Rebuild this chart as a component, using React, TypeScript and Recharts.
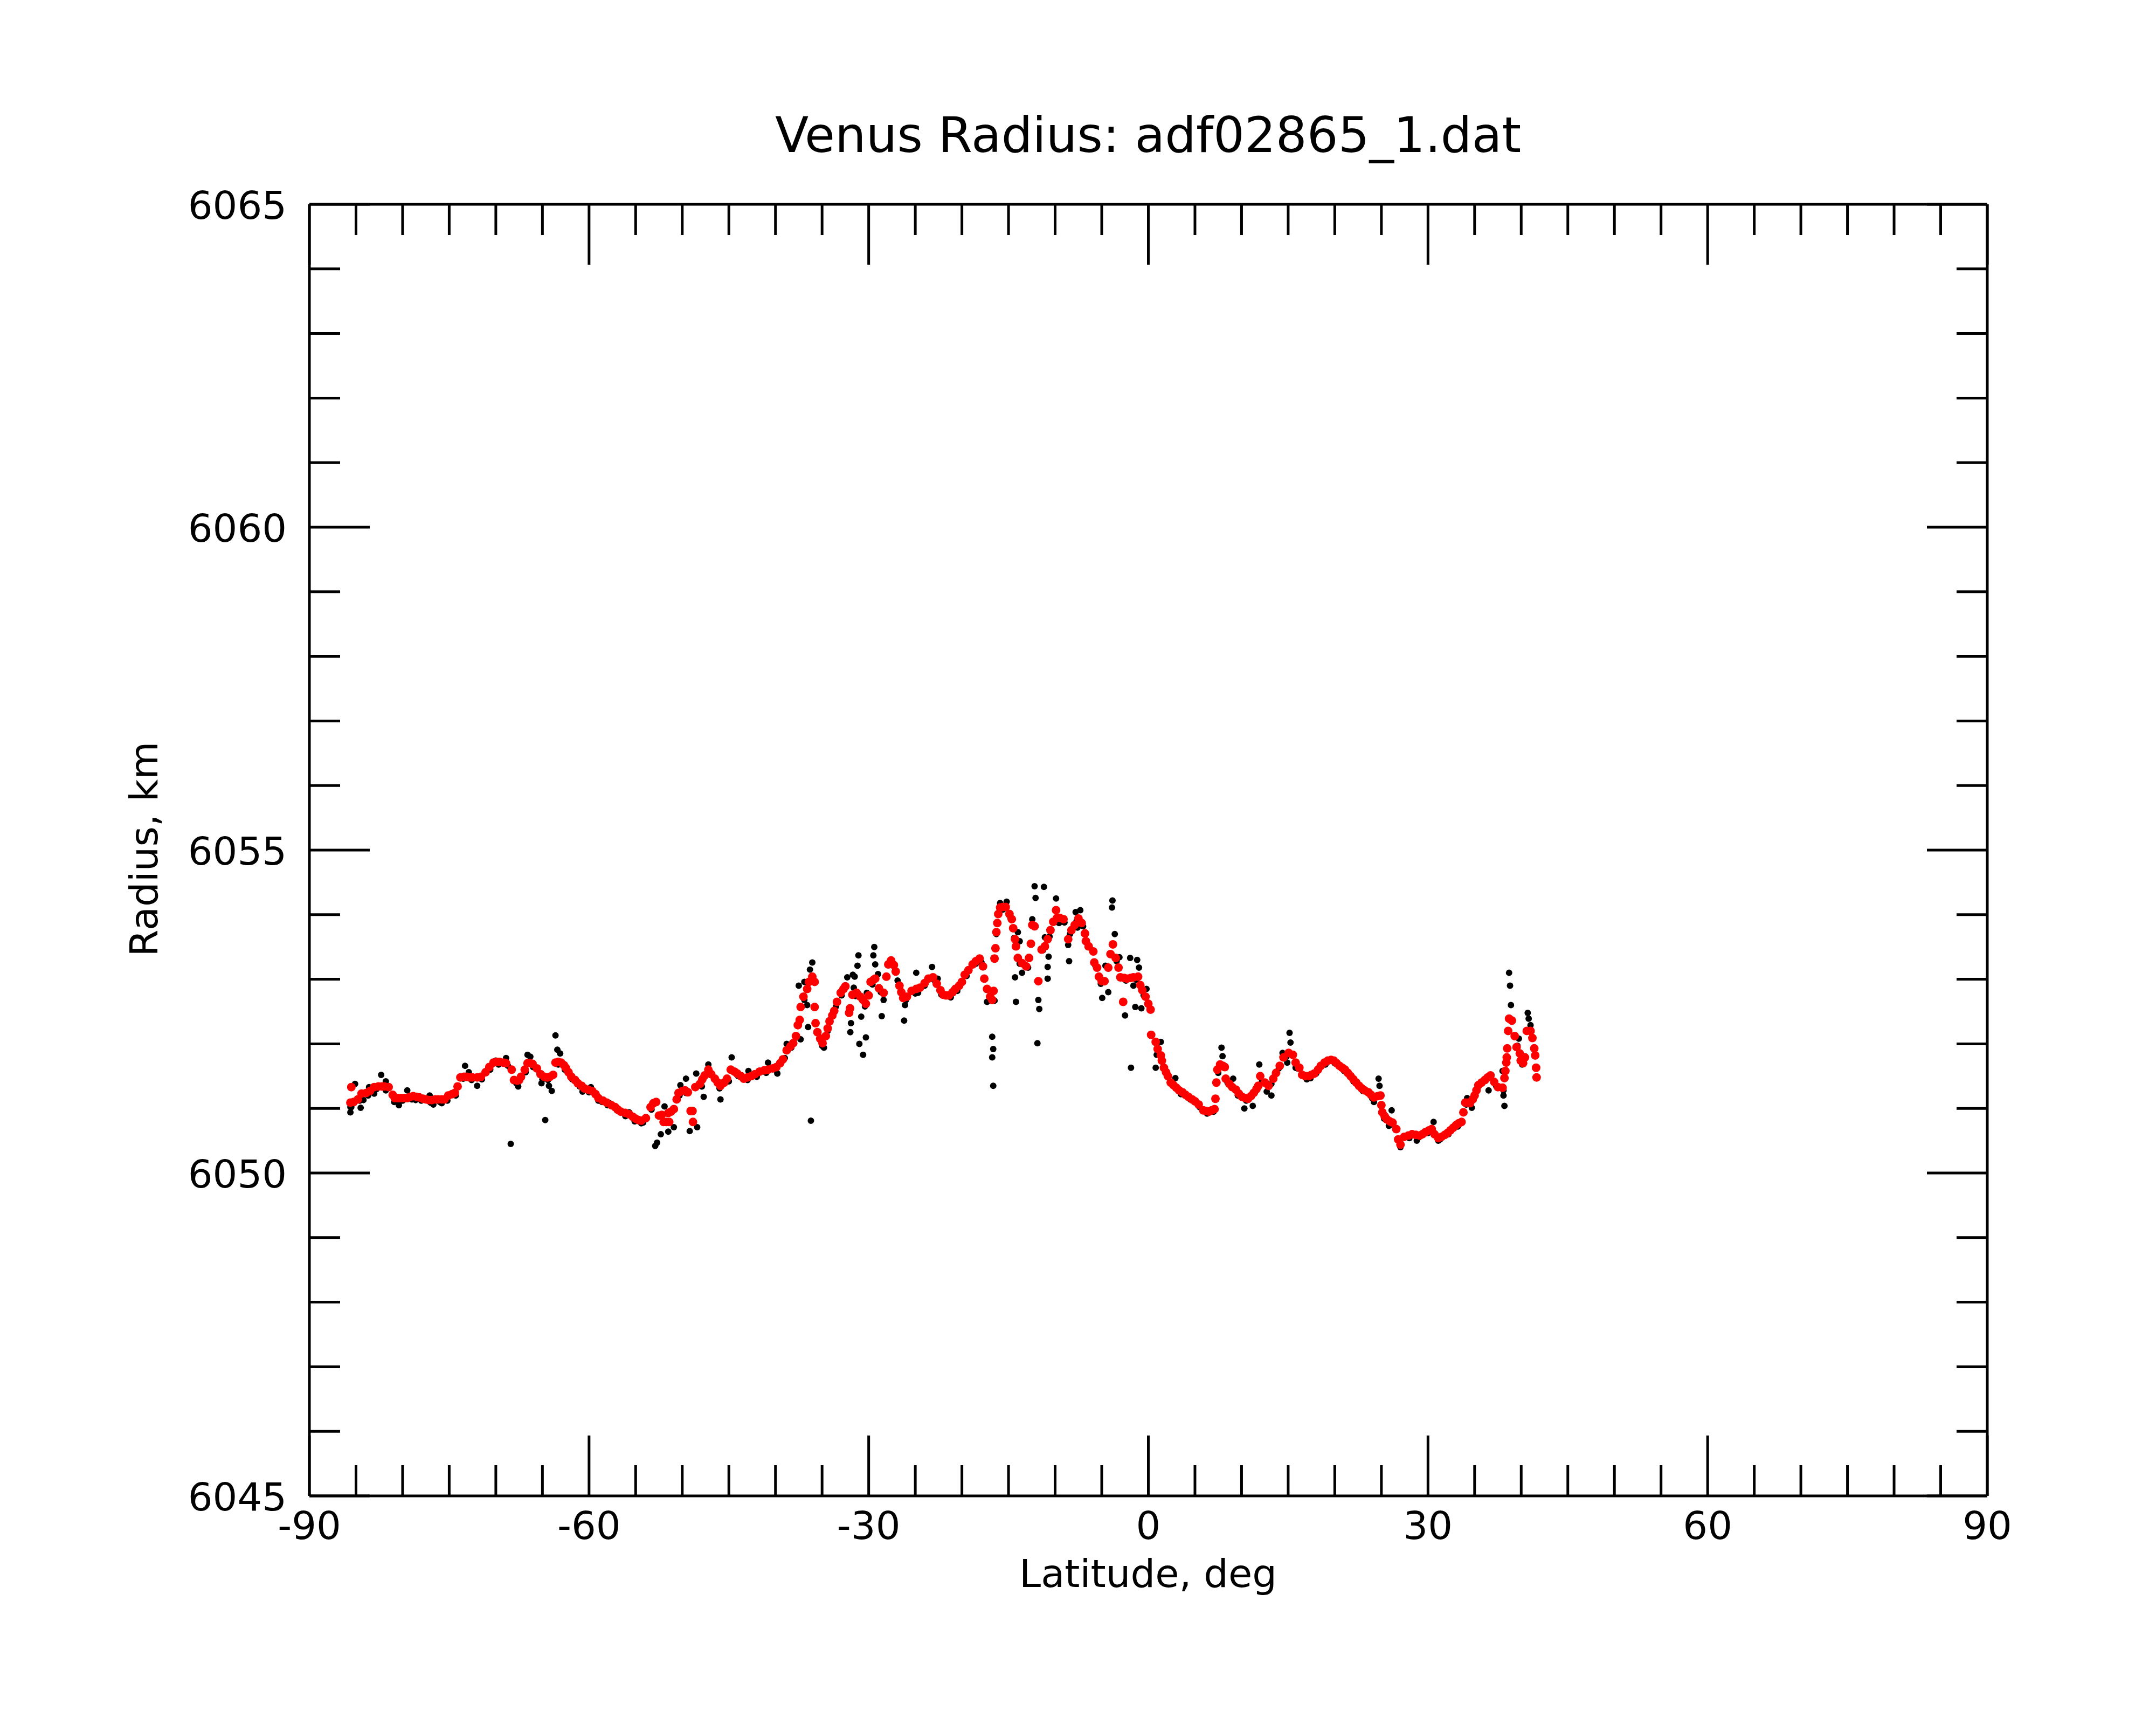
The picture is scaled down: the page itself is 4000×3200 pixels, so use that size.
import React from 'react';
import { ScatterChart, Scatter, XAxis, YAxis } from 'recharts';

// latitude ticks every 5 deg, labels only on multiples of 30
const latTicks = [-90, -85, -80, -75, -70, -65, -60, -55, -50, -45, -40, -35, -30, -25, -20, -15, -10, -5, 0, 5, 10, 15, 20, 25, 30, 35, 40, 45, 50, 55, 60, 65, 70, 75, 80, 85, 90];
// radius ticks every 1 km, labels every 5 km
const radiusTicks = [6045, 6046, 6047, 6048, 6049, 6050, 6051, 6052, 6053, 6054, 6055, 6056, 6057, 6058, 6059, 6060, 6061, 6062, 6063, 6064, 6065];

// raw samples (black) that sit along the smoothed profile
const rawAlong: [number, number][] = [
  [-85.5, 6051.02], [-84.6, 6051.12], [-83.7, 6051.2], [-82.8, 6051.3], [-81.8, 6051.28], [-80.9, 6051.1],
  [-80.0, 6051.12], [-79.0, 6051.14], [-78.0, 6051.12], [-77.0, 6051.09], [-76.0, 6051.1], [-75.2, 6051.12],
  [-74.3, 6051.2], [-73.5, 6051.46], [-72.6, 6051.44], [-71.5, 6051.45], [-70.6, 6051.6], [-69.7, 6051.68],
  [-68.7, 6051.66], [-67.8, 6051.39], [-66.8, 6051.56], [-66.0, 6051.64], [-65.0, 6051.45], [-64.4, 6051.44],
  [-63.3, 6051.68], [-62.6, 6051.6], [-61.8, 6051.45], [-61.0, 6051.34], [-60.0, 6051.25], [-59.0, 6051.12],
  [-58.0, 6051.05], [-57.0, 6050.97], [-56.0, 6050.89], [-55.1, 6050.8], [-54.2, 6050.78], [-53.3, 6050.98],
  [-50.3, 6051.2], [-49.6, 6051.24], [-47.9, 6051.34], [-47.0, 6051.55], [-46.0, 6051.31], [-45.0, 6051.42],
  [-44.0, 6051.5], [-43.0, 6051.44], [-42.0, 6051.49], [-41.0, 6051.55], [-40.0, 6051.6], [-39.0, 6051.78],
  [-38.3, 6051.94], [-37.7, 6052.1], [-36.9, 6052.68], [-36.2, 6052.98], [-35.0, 6051.97], [-34.4, 6052.2],
  [-33.5, 6052.58], [-32.9, 6052.75], [-31.4, 6052.74], [-30.4, 6052.58], [-29.6, 6052.92], [-28.7, 6052.8],
  [-27.5, 6053.25], [-26.9, 6052.98], [-26.0, 6052.68], [-25.0, 6052.78], [-24.0, 6052.9], [-23.0, 6052.99],
  [-22.2, 6052.76], [-21.2, 6052.72], [-20.5, 6052.82], [-19.5, 6053.05], [-18.5, 6053.24], [-17.9, 6053.26],
  [-17.0, 6052.7], [-16.3, 6053.7], [-15.6, 6054.08], [-14.8, 6053.96], [-14.4, 6053.64], [-13.8, 6053.24],
  [-12.9, 6053.18], [-11.3, 6053.45], [-10.6, 6053.66], [-9.7, 6053.92], [-9.0, 6053.88], [-8.4, 6053.7],
  [-7.7, 6053.9], [-7.0, 6053.82], [-6.5, 6053.5], [-5.7, 6053.22], [-5.1, 6052.93], [-3.4, 6053.28],
  [-2.4, 6052.98], [-1.3, 6052.99], [-0.5, 6052.75], [1.2, 6051.84], [2.0, 6051.5], [3.5, 6051.22],
  [4.5, 6051.14], [5.5, 6051.02], [6.3, 6050.92], [7.0, 6050.95], [7.5, 6051.55], [8.5, 6051.4],
  [9.6, 6051.2], [10.5, 6051.12], [11.5, 6051.26], [12.2, 6051.42], [13.2, 6051.38], [14.0, 6051.62],
  [14.8, 6051.8], [16.0, 6051.62], [17.0, 6051.45], [18.0, 6051.54], [19.0, 6051.68], [20.0, 6051.7],
  [21.0, 6051.58], [22.0, 6051.42], [23.0, 6051.27], [24.0, 6051.16], [25.3, 6050.84], [26.0, 6050.75],
  [27.0, 6050.42], [28.0, 6050.54], [29.0, 6050.55], [30.0, 6050.62], [31.3, 6050.52], [32.2, 6050.6],
  [33.2, 6050.72], [34.1, 6051.06], [35.3, 6051.3], [36.3, 6051.45], [37.3, 6051.35], [38.1, 6051.28],
];

// raw samples (black) scattered away from the profile
const rawScatter: [number, number][] = [
  [-85.6, 6050.94], [-85.6, 6051.02], [-85.1, 6051.38], [-84.5, 6051.01], [-84.2, 6051.13], [-83.6, 6051.33],
  [-83.05, 6051.23], [-82.3, 6051.52], [-81.8, 6051.42], [-80.4, 6051.05], [-79.5, 6051.28], [-78.6, 6051.13],
  [-77.1, 6051.2], [-76.7, 6051.06], [-75.8, 6051.08], [-73.3, 6051.66], [-72.9, 6051.56], [-72.0, 6051.35],
  [-70.0, 6051.74], [-68.9, 6051.78], [-68.4, 6050.45], [-67.6, 6051.34], [-66.6, 6051.83], [-66.3, 6051.8],
  [-65.1, 6051.39], [-64.3, 6051.35], [-64.0, 6051.27], [-64.7, 6050.82], [-63.6, 6052.13], [-63.4, 6051.91],
  [-63.1, 6051.85], [-62.3, 6051.57], [-60.7, 6051.26], [-59.8, 6051.33], [-58.6, 6051.1], [-57.8, 6051.08],
  [-56.1, 6050.88], [-55.7, 6050.94], [-54.4, 6050.77], [-53.05, 6051.07], [-52.9, 6050.42],
  [-52.7, 6050.47], [-52.3, 6050.6], [-51.9, 6051.03], [-51.5, 6050.64], [-50.9, 6050.71], [-50.2, 6051.36],
  [-49.6, 6051.46], [-49.2, 6050.65], [-48.4, 6050.71], [-48.5, 6051.54], [-47.7, 6051.18], [-47.2, 6051.68],
  [-45.9, 6051.14], [-44.7, 6051.79], [-42.9, 6051.58], [-40.8, 6051.71], [-39.8, 6051.54], [-38.8, 6052.0],
  [-37.3, 6052.07], [-37.5, 6052.9], [-36.9, 6052.96], [-36.6, 6052.6], [-36.05, 6053.26], [-36.3, 6053.15],
  [-36.5, 6052.26], [-36.2, 6050.81], [-34.8, 6051.94], [-32.3, 6053.03], [-31.7, 6053.07], [-31.97, 6052.18],
  [-31.9, 6052.32], [-31.6, 6052.87], [-31.5, 6053.04], [-31.2, 6053.21], [-31.1, 6053.37], [-31.0, 6052.0],
  [-30.6, 6051.83], [-30.3, 6052.1], [-30.8, 6052.42], [-30.2, 6052.79], [-29.5, 6053.37], [-29.4, 6053.5],
  [-29.3, 6053.23], [-29.0, 6053.08], [-28.6, 6052.43], [-28.4, 6052.68], [-26.1, 6052.6], [-26.2, 6052.36],
  [-24.9, 6053.1], [-24.7, 6052.79], [-23.2, 6053.19], [-22.6, 6053.01],
  [-16.75, 6052.11], [-16.64, 6051.92], [-16.75, 6051.79], [-16.64, 6051.35], [-17.3, 6052.65], [-16.5, 6052.67],
  [-16.6, 6053.33], [-15.9, 6054.18], [-15.2, 6054.2], [-14.2, 6052.65], [-14.3, 6053.03], [-14.0, 6053.73],
  [-13.8, 6053.59], [-13.55, 6053.1], [-12.2, 6054.44], [-11.2, 6054.43], [-12.1, 6054.26], [-12.45, 6053.93],
  [-11.8, 6052.68], [-11.7, 6052.54], [-11.9, 6052.01], [-11.1, 6053.65], [-10.7, 6053.35], [-10.8, 6053.19],
  [-10.8, 6053.01], [-9.9, 6054.25], [-9.58, 6053.87], [-8.6, 6053.53], [-8.5, 6053.28], [-7.8, 6054.04],
  [-7.3, 6054.07], [-7.6, 6053.8], [-4.95, 6052.71], [-4.3, 6052.8], [-4.6, 6053.21], [-3.85, 6054.22],
  [-3.9, 6054.11], [-3.6, 6053.7], [-3.1, 6053.34], [-2.5, 6052.44], [-1.95, 6053.33], [-1.2, 6053.3],
  [-1.0, 6053.18], [-1.6, 6052.9], [-1.4, 6052.57], [-0.75, 6052.55], [-0.2, 6052.85], [-1.86, 6051.63],
  [0.79, 6051.63], [1.34, 6052.03], [0.9, 6051.83], [2.9, 6051.47], [7.85, 6051.94], [7.96, 6051.81],
  [9.1, 6051.46], [10.3, 6051.0], [11.2, 6051.04], [11.9, 6051.68], [12.7, 6051.26],
  [15.15, 6052.17], [15.25, 6052.02], [14.4, 6051.86], [14.9, 6051.71], [15.8, 6051.63], [17.4, 6051.47],
  [13.2, 6051.2], [24.7, 6051.46], [24.8, 6051.35], [24.2, 6051.1], [26.1, 6050.97], [25.8, 6050.73],
  [27.05, 6050.4], [28.8, 6050.5], [30.6, 6050.79], [31.1, 6050.5], [34.2, 6051.16], [34.7, 6051.01],
  [36.5, 6051.28], [36.8, 6051.52], [38.1, 6051.2], [38.2, 6051.04], [38.0, 6051.58], [38.7, 6053.1],
  [38.8, 6052.9], [38.9, 6052.6], [39.75, 6052.08], [39.6, 6051.97], [40.1, 6051.68], [40.7, 6052.48],
  [40.8, 6052.39], [41.0, 6052.29],
];

// smoothed profile (red)
const smoothPoints: [number, number][] = [
  [-85.6, 6051.09], [-85.5, 6051.33], [-85.25, 6051.1], [-84.8, 6051.14], [-84.4, 6051.23], [-83.9, 6051.24],
  [-83.5, 6051.27], [-83.05, 6051.33], [-82.6, 6051.34], [-82.2, 6051.34], [-81.95, 6051.34], [-81.5, 6051.33],
  [-81.06, 6051.21], [-80.84, 6051.16], [-80.5, 6051.16], [-80.18, 6051.16], [-79.8, 6051.16], [-79.5, 6051.16],
  [-79.2, 6051.18], [-78.86, 6051.19], [-78.5, 6051.18], [-78.2, 6051.17], [-77.8, 6051.15], [-77.5, 6051.14],
  [-77.2, 6051.13], [-76.87, 6051.13], [-76.5, 6051.14], [-76.2, 6051.14], [-75.8, 6051.14], [-75.5, 6051.14],
  [-75.1, 6051.2], [-74.7, 6051.22], [-74.4, 6051.24], [-74.1, 6051.34], [-73.8, 6051.48], [-73.4, 6051.49],
  [-73.1, 6051.49], [-72.8, 6051.48], [-72.5, 6051.48], [-72.0, 6051.48], [-71.6, 6051.49], [-71.1, 6051.56],
  [-70.7, 6051.64], [-70.25, 6051.71], [-69.9, 6051.72], [-69.6, 6051.72], [-69.2, 6051.71], [-68.9, 6051.7],
  [-68.3, 6051.6], [-68.05, 6051.44], [-67.7, 6051.43], [-67.5, 6051.44], [-67.3, 6051.49], [-66.9, 6051.6],
  [-66.6, 6051.7], [-66.3, 6051.7], [-66.06, 6051.69], [-65.6, 6051.62], [-65.2, 6051.53], [-64.8, 6051.49],
  [-64.5, 6051.48], [-64.2, 6051.49], [-63.85, 6051.52], [-63.6, 6051.71], [-63.3, 6051.72], [-63.0, 6051.71],
  [-62.7, 6051.67], [-62.5, 6051.63], [-62.2, 6051.56], [-61.9, 6051.49], [-61.5, 6051.44], [-61.2, 6051.39],
  [-60.8, 6051.35], [-60.5, 6051.31], [-60.1, 6051.29], [-59.66, 6051.27], [-59.3, 6051.22], [-59.0, 6051.16],
  [-58.5, 6051.12], [-58.1, 6051.09], [-57.6, 6051.05], [-57.2, 6051.02], [-56.9, 6050.98], [-56.6, 6050.95],
  [-56.1, 6050.93], [-55.7, 6050.91], [-55.3, 6050.87], [-55.0, 6050.84], [-54.7, 6050.82], [-54.4, 6050.81],
  [-53.9, 6050.85], [-53.4, 6051.02], [-53.1, 6051.08], [-52.8, 6051.1], [-52.5, 6050.89], [-52.2, 6050.9],
  [-52.0, 6050.79], [-51.7, 6050.79], [-51.4, 6050.79], [-51.5, 6050.93], [-51.2, 6050.95], [-50.9, 6050.99],
  [-50.6, 6051.14], [-50.4, 6051.24], [-50.0, 6051.27], [-49.7, 6051.28], [-49.4, 6051.25], [-49.1, 6050.96],
  [-48.9, 6050.96], [-48.85, 6050.79], [-48.6, 6051.33], [-48.1, 6051.38], [-47.85, 6051.45], [-47.6, 6051.51],
  [-47.2, 6051.6], [-46.9, 6051.53], [-46.5, 6051.46], [-46.2, 6051.4], [-45.9, 6051.35], [-45.5, 6051.4],
  [-45.2, 6051.46], [-44.8, 6051.6], [-44.4, 6051.57], [-44.1, 6051.54], [-43.7, 6051.5], [-43.4, 6051.46],
  [-43.0, 6051.48], [-42.6, 6051.5], [-42.2, 6051.53], [-41.7, 6051.57], [-41.2, 6051.59], [-40.8, 6051.6],
  [-40.3, 6051.62], [-39.9, 6051.64], [-39.5, 6051.7], [-39.2, 6051.76], [-38.8, 6051.9], [-38.4, 6051.96],
  [-38.1, 6052.01], [-37.8, 6052.12], [-37.6, 6052.29], [-37.4, 6052.37], [-37.3, 6052.57], [-37.0, 6052.73],
  [-36.6, 6052.85], [-36.4, 6052.96], [-36.05, 6053.04], [-35.8, 6052.96], [-35.8, 6052.57], [-35.7, 6052.32],
  [-35.5, 6052.18], [-35.2, 6052.08], [-34.95, 6052.01], [-34.6, 6052.12], [-34.4, 6052.24], [-34.2, 6052.35],
  [-33.9, 6052.44], [-33.7, 6052.51], [-33.4, 6052.65], [-33.0, 6052.79], [-32.7, 6052.85], [-32.5, 6052.89],
  [-32.1, 6052.48], [-32.0, 6052.55], [-31.75, 6052.76], [-31.3, 6052.79], [-30.9, 6052.73], [-30.6, 6052.68],
  [-30.3, 6052.62], [-30.0, 6052.75], [-29.8, 6052.96], [-29.5, 6052.99], [-29.3, 6053.01], [-28.9, 6052.86],
  [-28.4, 6052.79], [-28.1, 6053.04], [-27.9, 6053.23], [-27.6, 6053.29], [-27.3, 6053.22], [-27.1, 6053.12],
  [-26.7, 6052.9], [-26.5, 6052.8], [-26.3, 6052.71], [-25.9, 6052.73], [-25.4, 6052.82], [-24.9, 6052.85],
  [-24.5, 6052.87], [-24.0, 6052.94], [-23.6, 6053.01], [-23.1, 6053.03], [-22.7, 6052.93], [-22.3, 6052.83],
  [-22.0, 6052.76], [-21.7, 6052.75], [-21.4, 6052.75], [-21.0, 6052.8], [-20.7, 6052.85], [-20.3, 6052.9],
  [-20.0, 6052.96], [-19.7, 6053.07], [-19.3, 6053.14], [-18.85, 6053.23], [-18.5, 6053.28], [-18.1, 6053.32],
  [-17.74, 6053.2], [-17.6, 6053.01], [-17.3, 6052.85], [-16.97, 6052.73], [-16.75, 6052.68], [-16.6, 6052.82],
  [-16.5, 6053.32], [-16.4, 6053.48], [-16.3, 6053.73], [-16.2, 6053.87], [-16.1, 6054.01], [-15.9, 6054.11],
  [-15.6, 6054.12], [-15.3, 6054.12], [-14.9, 6054.01], [-14.65, 6053.93], [-14.5, 6053.79], [-14.3, 6053.62],
  [-14.2, 6053.51], [-14.0, 6053.33], [-13.55, 6053.25], [-13.1, 6053.2], [-12.8, 6053.33], [-12.6, 6053.55],
  [-12.45, 6053.84], [-12.2, 6053.82], [-11.8, 6052.97], [-11.45, 6053.46], [-11.1, 6053.51], [-10.8, 6053.62],
  [-10.5, 6053.76], [-10.2, 6053.89], [-9.9, 6054.07], [-9.8, 6053.95], [-9.5, 6053.95], [-9.1, 6053.93],
  [-8.6, 6053.62], [-8.25, 6053.76], [-7.9, 6053.84], [-7.5, 6053.94], [-7.15, 6053.87], [-6.8, 6053.71],
  [-6.7, 6053.59], [-6.4, 6053.51], [-5.9, 6053.43], [-5.8, 6053.26], [-5.5, 6053.18], [-5.3, 6053.04],
  [-5.0, 6052.97], [-4.7, 6052.97], [-4.3, 6053.18], [-4.06, 6053.39], [-3.8, 6053.54], [-3.5, 6053.33],
  [-3.2, 6053.18], [-3.0, 6053.03], [-2.7, 6052.65], [-2.6, 6053.02], [-2.3, 6053.01], [-1.9, 6053.02],
  [-1.6, 6053.03], [-1.1, 6053.04], [-0.86, 6052.91], [-0.65, 6052.83], [-0.3, 6052.73], [0.0, 6052.62],
  [0.24, 6052.53], [0.3, 6052.14], [0.79, 6052.03], [1.0, 6051.92], [1.34, 6051.82], [1.45, 6051.74],
  [1.67, 6051.63], [1.9, 6051.56], [2.1, 6051.5], [2.4, 6051.4], [2.7, 6051.36], [3.0, 6051.32],
  [3.3, 6051.28], [3.66, 6051.25], [4.0, 6051.21], [4.3, 6051.18], [4.7, 6051.14], [5.0, 6051.11],
  [5.4, 6051.06], [5.9, 6050.97], [6.2, 6050.96], [6.5, 6050.95], [6.8, 6050.97], [7.1, 6050.99],
  [7.2, 6051.15], [7.3, 6051.4], [7.4, 6051.6], [7.7, 6051.68], [8.0, 6051.66], [8.2, 6051.64],
  [8.3, 6051.46], [8.7, 6051.38], [9.0, 6051.33], [9.4, 6051.29], [9.7, 6051.23], [10.05, 6051.18],
  [10.4, 6051.16], [10.7, 6051.15], [11.0, 6051.19], [11.3, 6051.24], [11.6, 6051.3], [11.8, 6051.35],
  [12.0, 6051.5], [12.5, 6051.4], [12.9, 6051.35], [13.4, 6051.46], [13.7, 6051.55], [14.1, 6051.66],
  [14.5, 6051.79], [15.05, 6051.86], [15.5, 6051.83], [15.8, 6051.71], [16.2, 6051.63], [16.5, 6051.52],
  [16.85, 6051.5], [17.2, 6051.5], [17.5, 6051.52], [17.8, 6051.54], [18.2, 6051.6], [18.5, 6051.66],
  [18.9, 6051.71], [19.25, 6051.74], [19.6, 6051.75], [19.9, 6051.74], [20.2, 6051.7], [20.5, 6051.66],
  [20.8, 6051.63], [21.1, 6051.6], [21.4, 6051.55], [21.7, 6051.5], [22.0, 6051.45], [22.3, 6051.4],
  [22.6, 6051.35], [22.9, 6051.31], [23.2, 6051.28], [23.6, 6051.25], [23.9, 6051.21], [24.2, 6051.17],
  [24.6, 6051.19], [24.9, 6051.2], [25.0, 6051.05], [25.1, 6050.94], [25.35, 6050.88], [25.6, 6050.83],
  [25.9, 6050.8], [26.2, 6050.78], [26.6, 6050.68], [26.8, 6050.52], [27.05, 6050.44], [27.45, 6050.56],
  [27.9, 6050.58], [28.3, 6050.6], [28.7, 6050.59], [29.1, 6050.58], [29.4, 6050.6], [29.7, 6050.63],
  [30.1, 6050.66], [30.4, 6050.68], [30.7, 6050.6], [31.1, 6050.54], [31.45, 6050.56], [31.8, 6050.59],
  [32.1, 6050.62], [32.4, 6050.66], [32.7, 6050.7], [33.0, 6050.74], [33.3, 6050.77], [33.6, 6050.79],
  [33.8, 6050.94], [34.0, 6051.09], [34.3, 6051.09], [34.5, 6051.08], [34.8, 6051.14], [35.0, 6051.2],
  [35.2, 6051.28], [35.4, 6051.36], [35.75, 6051.4], [36.1, 6051.44], [36.4, 6051.48], [36.7, 6051.51],
  [37.1, 6051.41], [37.5, 6051.33], [38.0, 6051.32], [38.2, 6051.47], [38.3, 6051.58], [38.4, 6051.71],
  [38.45, 6051.79], [38.5, 6051.93], [38.6, 6052.2], [38.7, 6052.39], [39.0, 6052.36], [39.3, 6052.12],
  [39.5, 6051.95], [39.85, 6051.85], [39.95, 6051.74], [40.2, 6051.7], [40.4, 6051.79], [40.6, 6052.2],
  [41.0, 6052.2], [41.2, 6052.09], [41.4, 6051.93], [41.5, 6051.82], [41.6, 6051.63], [41.65, 6051.48],
];

const toRows = (pts: [number, number][]) => pts.map(([lat, radius]) => ({ lat, radius }));
const rawData = toRows([...rawAlong, ...rawScatter]);
const smoothData = toRows(smoothPoints);

const FONT = '"DejaVu Sans", sans-serif';
const LINE = 5;
const MAJOR_LEN = 112;
const MINOR_LEN = 57;

const isMajorLat = (v: number) => v % 30 === 0;
const isMajorRadius = (v: number) => v % 5 === 0;

const BottomTick = ({ x, y, payload }: any) => {
  const major = isMajorLat(payload.value);
  return (
    <g>
      <line x1={x} y1={y} x2={x} y2={y - (major ? MAJOR_LEN : MINOR_LEN)} stroke="#000" strokeWidth={LINE} />
      {major && (
        <text x={x} y={y + 80} textAnchor="middle" fontFamily={FONT} fontSize={72} fill="#000">
          {payload.value}
        </text>
      )}
    </g>
  );
};

const TopTick = ({ x, y, payload }: any) => {
  const major = isMajorLat(payload.value);
  return <line x1={x} y1={y} x2={x} y2={y + (major ? MAJOR_LEN : MINOR_LEN)} stroke="#000" strokeWidth={LINE} />;
};

const LeftTick = ({ x, y, payload }: any) => {
  const major = isMajorRadius(payload.value);
  return (
    <g>
      <line x1={x} y1={y} x2={x + (major ? MAJOR_LEN : MINOR_LEN)} y2={y} stroke="#000" strokeWidth={LINE} />
      {major && (
        <text x={x - 42} y={y + 27} textAnchor="end" fontFamily={FONT} fontSize={72} fill="#000">
          {payload.value}
        </text>
      )}
    </g>
  );
};

const RightTick = ({ x, y, payload }: any) => {
  const major = isMajorRadius(payload.value);
  return <line x1={x} y1={y} x2={x - (major ? MAJOR_LEN : MINOR_LEN)} y2={y} stroke="#000" strokeWidth={LINE} />;
};

const blackDot = (p: any) => <circle cx={p.cx} cy={p.cy} r={6} fill="#000000" />;
const redDot = (p: any) => <circle cx={p.cx} cy={p.cy} r={8} fill="#ff0000" />;

const axisLine = { stroke: '#000', strokeWidth: LINE };

export default function App() {
  return (
    <div style={{ position: 'absolute', left: 0, top: 0, width: 4000, height: 3200, background: '#fff' }}>
      <ScatterChart width={4000} height={3200} margin={{ top: 378, right: 312, bottom: 424, left: 573 }}>
        <XAxis
          xAxisId="bottom"
          type="number"
          dataKey="lat"
          domain={[-90, 90]}
          ticks={latTicks}
          interval={0}
          height={1}
          tickSize={0}
          tickMargin={0}
          tickLine={false}
          axisLine={axisLine}
          tick={BottomTick}
          allowDataOverflow
        />
        <XAxis
          xAxisId="top"
          orientation="top"
          type="number"
          dataKey="lat"
          domain={[-90, 90]}
          ticks={latTicks}
          interval={0}
          height={1}
          tickSize={0}
          tickMargin={0}
          tickLine={false}
          axisLine={axisLine}
          tick={TopTick}
          allowDataOverflow
        />
        <YAxis
          yAxisId="left"
          type="number"
          dataKey="radius"
          domain={[6045, 6065]}
          ticks={radiusTicks}
          interval={0}
          width={1}
          tickSize={0}
          tickMargin={0}
          tickLine={false}
          axisLine={axisLine}
          tick={LeftTick}
          allowDataOverflow
        />
        <YAxis
          yAxisId="right"
          orientation="right"
          type="number"
          dataKey="radius"
          domain={[6045, 6065]}
          ticks={radiusTicks}
          interval={0}
          width={1}
          tickSize={0}
          tickMargin={0}
          tickLine={false}
          axisLine={axisLine}
          tick={RightTick}
          allowDataOverflow
        />
        <Scatter data={rawData} xAxisId="bottom" yAxisId="left" fill="#000" shape={blackDot} isAnimationActive={false} />
        <Scatter data={smoothData} xAxisId="bottom" yAxisId="left" fill="#f00" shape={redDot} isAnimationActive={false} />
      </ScatterChart>
      <svg width={4000} height={3200} style={{ position: 'absolute', left: 0, top: 0, pointerEvents: 'none' }}>
        <text x={2130} y={282} textAnchor="middle" fontFamily={FONT} fontSize={91} fill="#000">
          Venus Radius: adf02865_1.dat
        </text>
        <text x={2130} y={2944} textAnchor="middle" fontFamily={FONT} fontSize={72} fill="#000">
          Latitude, deg
        </text>
        <text x={292} y={1575} textAnchor="middle" fontFamily={FONT} fontSize={72} fill="#000" transform="rotate(-90 292 1575)">
          Radius, km
        </text>
      </svg>
    </div>
  );
}
